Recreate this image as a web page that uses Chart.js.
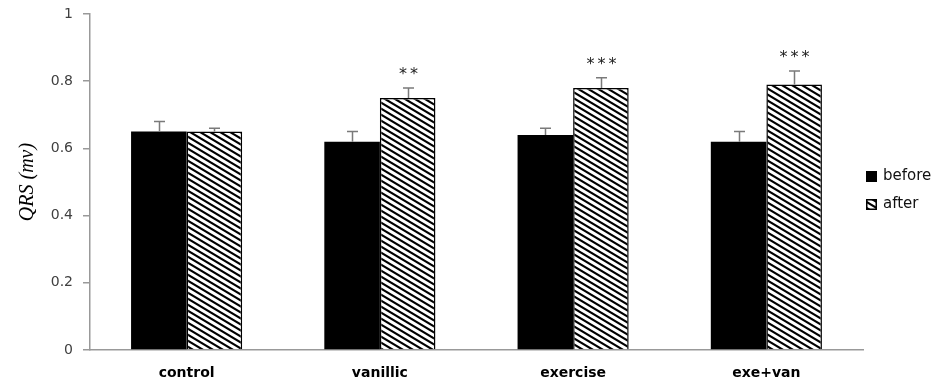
<!DOCTYPE html>
<html>
<head>
<meta charset="utf-8">
<script src="https://cdn.jsdelivr.net/npm/chart.js@4.4.1/dist/chart.umd.min.js"></script>
<style>
  html, body { margin: 0; padding: 0; background: #fff; }
  canvas { display: block; }
</style>
</head>
<body>
<canvas id="qrs" width="946" height="383"></canvas>
<script>
// QRS amplitude (mV) before and after treatment, by group
const groups = ['control', 'vanillic', 'exercise', 'exe+van'];
const beforeValues = [0.65, 0.62, 0.64, 0.62];
const beforeErrors = [0.03, 0.03, 0.02, 0.03];
const afterValues = [0.65, 0.75, 0.78, 0.79];
const afterErrors = [0.01, 0.03, 0.03, 0.04];
const afterSignificance = ['', '**', '***', '***'];
const yTickLabels = ['0', '0.2', '0.4', '0.6', '0.8', '1'];

// Wide downward-diagonal hatch used for the "after" bars
function makeHatch() {
  const w = 10, h = 6;
  const c = document.createElement('canvas');
  c.width = w; c.height = h;
  const g = c.getContext('2d');
  g.fillStyle = '#fff';
  g.fillRect(0, 0, w, h);
  g.strokeStyle = '#000';
  g.lineWidth = 2.1;
  for (let k = -1; k <= 1; k++) {
    g.beginPath();
    g.moveTo(-w, -h + k * h);
    g.lineTo(2 * w, 2 * h + k * h);
    g.stroke();
  }
  const ctx = document.getElementById('qrs').getContext('2d');
  return ctx.createPattern(c, 'repeat');
}
const hatch = makeHatch();

const errorBars = {
  id: 'errorBars',
  afterDatasetsDraw(chart) {
    const ctx = chart.ctx;
    const yScale = chart.scales.y;
    const errs = [beforeErrors, afterErrors];
    ctx.save();
    chart.data.datasets.forEach((ds, di) => {
      const meta = chart.getDatasetMeta(di);
      meta.data.forEach((bar, i) => {
        const v = ds.data[i];
        const top = yScale.getPixelForValue(v + errs[di][i]);
        const x = Math.round(bar.x) + 0.5;
        ctx.strokeStyle = '#7a7a7a';
        ctx.lineWidth = 1.5;
        ctx.beginPath();
        ctx.moveTo(x, bar.y);
        ctx.lineTo(x, top);
        ctx.moveTo(x - 5.5, top);
        ctx.lineTo(x + 5.5, top);
        ctx.stroke();
        if (di === 1 && afterSignificance[i]) {
          const stars = afterSignificance[i].split('');
          const gap = 11;
          const start = x - (stars.length - 1) * gap / 2;
          ctx.fillStyle = '#222';
          ctx.font = '16px "DejaVu Sans"';
          ctx.textAlign = 'center';
          ctx.textBaseline = 'middle';
          stars.forEach((s, k) => ctx.fillText(s, start + k * gap, top - 13));
        }
      });
    });
    ctx.restore();
  }
};

const sideLegend = {
  id: 'sideLegend',
  afterDraw(chart) {
    const ctx = chart.ctx;
    const items = chart.data.datasets;
    const x0 = 866, ys = [176, 204];
    ctx.save();
    items.forEach((ds, i) => {
      const y = ys[i];
      ctx.fillStyle = ds.backgroundColor;
      ctx.fillRect(x0, y - 5, 11, 11);
      if (ds.borderWidth) {
        ctx.strokeStyle = '#000';
        ctx.lineWidth = 1.5;
        ctx.strokeRect(x0 + 0.75, y - 4.25, 9.5, 9.5);
      }
      ctx.fillStyle = '#111';
      ctx.font = '15px "DejaVu Sans"';
      ctx.textAlign = 'left';
      ctx.textBaseline = 'middle';
      ctx.fillText(ds.label, x0 + 17, y);
    });
    ctx.restore();
  }
};

new Chart(document.getElementById('qrs'), {
  type: 'bar',
  data: {
    labels: groups,
    datasets: [
      { label: 'before', data: beforeValues, backgroundColor: '#000', borderWidth: 0 },
      { label: 'after', data: afterValues, backgroundColor: hatch, borderColor: '#000', borderWidth: 1.5 }
    ]
  },
  options: {
    responsive: false,
    animation: false,
    devicePixelRatio: 1,
    layout: { padding: { top: 14, right: 83, left: 0, bottom: 0 } },
    datasets: { bar: { categoryPercentage: 0.575, barPercentage: 1.0 } },
    plugins: { legend: { display: false }, tooltip: { enabled: false } },
    scales: {
      x: {
        grid: { display: true, drawOnChartArea: false, drawTicks: false },
        border: { display: true, color: '#999', width: 1.5 },
        ticks: { color: '#000', padding: 15, font: { family: 'DejaVu Sans', size: 14, weight: 'bold' } },
        afterFit(s) { s.height = 33; s.paddingLeft = 0; s.paddingRight = 0; }
      },
      y: {
        min: 0, max: 1,
        grid: { display: true, drawOnChartArea: false, drawTicks: true, tickLength: 7, color: '#999', lineWidth: 1.5 },
        border: { display: true, color: '#999', width: 1.5 },
        ticks: {
          stepSize: 0.2, padding: 10, color: '#404040',
          font: { family: 'DejaVu Sans', size: 14 },
          callback: (v, i) => yTickLabels[i]
        },
        title: {
          display: true, text: 'QRS (mv)', color: '#000', padding: { top: 16, bottom: 4 },
          font: { family: 'Liberation Serif', size: 20, style: 'italic' }
        },
        afterFit(s) { s.width = 90; s.paddingTop = 0; s.paddingBottom = 0; }
      }
    }
  },
  plugins: [errorBars, sideLegend]
});
</script>
</body>
</html>
